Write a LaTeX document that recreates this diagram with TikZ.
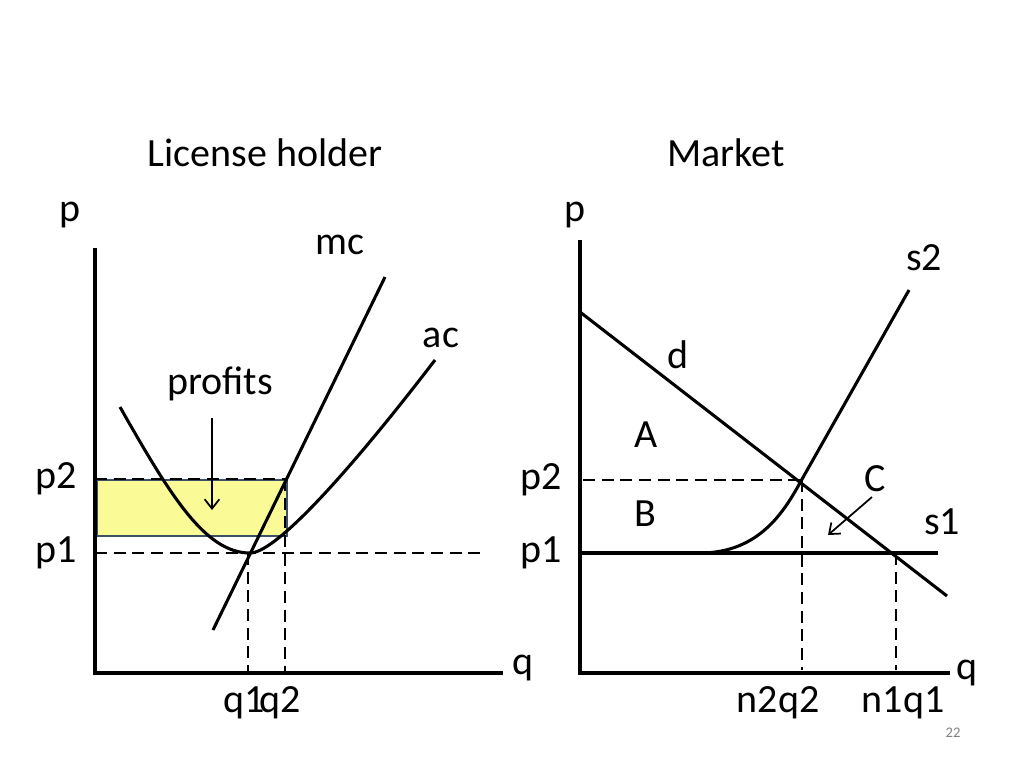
\documentclass[tikz,border=0pt]{standalone}
\usepackage{fontspec}
\setmainfont{Carlito}
\usetikzlibrary{arrows.meta}
\definecolor{profitfill}{RGB}{250,250,150}
\definecolor{profitline}{RGB}{60,80,105}
\tikzset{
  curve/.style={line width=2.3pt},
  guide/.style={line width=1.7pt,dash pattern=on 9pt off 5pt},
  lbl/.style={font=\fontsize{30}{36}\selectfont,inner sep=0pt},
  pointer/.style={line width=1.3pt,-{Straight Barb[length=7pt,width=11pt]}},
}
\begin{document}
\begin{tikzpicture}[x=0.75pt,y=-0.75pt]
\useasboundingbox (0,0) rectangle (1024,768);
% license holder
\node[lbl] (title1) at (265,153) {License holder};
\fill[profitfill,draw=profitline,line width=1.7pt] (97,480) rectangle (287,536);
\node[lbl] (p1axis) at (70,215) {p};
\node[lbl] (q1axis) at (523,668) {q};
\draw[curve] (95,248)--(95,673)--(503,673);
\draw[guide] (95,553) node[lbl,left=13pt] (p1l) {p1} --(480,553);
\draw[guide] (95,479) node[lbl,left=13pt] (p2l) {p2} --(287,479);
\draw[guide] (248,553)--(248,673);
\draw[guide] (285,479)--(285,673);
\draw[curve] (213,630)--(385,277);
\draw[curve] (120,407) .. controls (170,495) and (205,553) .. (250,553) .. controls (280,553) and (370,445) .. (435,360);
\node[lbl] (mc) at (340,245) {mc};
\node[lbl] (ac) at (441,338) {ac};
\node[lbl] (profits) at (220,384) {profits};
\draw[pointer] (212,418)--(212,510);
\node[lbl] (q1l) at (244,703) {q1};
\node[lbl] (q2l) at (280,703) {q2};
% market
\node[lbl] (title2) at (726,153) {Market};
\node[lbl] (p2axis) at (575,215) {p};
\node[lbl] (q2axis) at (967,673) {q};
\draw[curve] (580,240)--(580,673)--(950,673);
\draw[curve] (580,312)--(947,596);
\draw[curve] (580,553)--(938,553);
\draw[curve] (700,553) .. controls (760,553) and (785,510) .. (801,481) -- (909,290);
\draw[guide] (583,480)--(801,480);
\node[lbl] (p2r) at (541,480) {p2};
\node[lbl] (p1r) at (541,553) {p1};
\draw[guide] (802,480)--(802,670);
\draw[guide] (896,553)--(896,670);
\node[lbl] (s2) at (924,258) {s2};
\node[lbl] (s1) at (942,522) {s1};
\node[lbl] (d) at (678,355) {d};
\node[lbl] (A) at (646,435) {A};
\node[lbl] (B) at (645,514) {B};
\node[lbl] (C) at (875,479) {C};
\draw[pointer] (872,497)--(828,535);
\node[lbl] (n2q2) at (778,703) {n2q2};
\node[lbl] (n1q1) at (903,703) {n1q1};
\node[font=\fontsize{11}{13}\selectfont,text=gray] (page) at (953,733) {22};
\end{tikzpicture}
\end{document}
